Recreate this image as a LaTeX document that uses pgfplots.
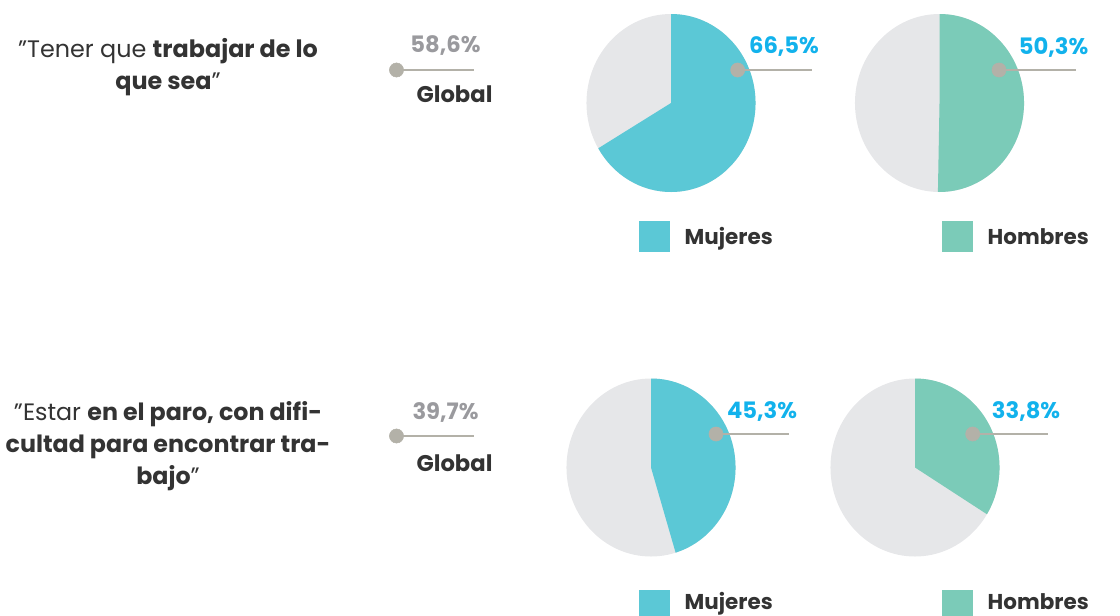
\documentclass[border=0pt]{standalone}
\usepackage{pgfplots}
\pgfplotsset{compat=1.18}
\usepackage{fontspec}
\setmainfont{Poppins}
\definecolor{cMuj}{HTML}{5BC8D6}
\definecolor{cHom}{HTML}{7BCBB8}
\definecolor{cBg}{HTML}{E6E7E9}
\definecolor{cDot}{HTML}{B3B1A8}
\definecolor{cPct}{HTML}{12B2EC}
\definecolor{cGlob}{HTML}{9A9A9E}
\definecolor{cTxt}{HTML}{333333}
% pie values (%)
\def\vMujA{66.5}\def\vHomA{50.3}\def\vMujB{45.3}\def\vHomB{33.8}
\newcommand{\pie}[5]{% cx, cy, value, colour
  \fill[cBg] (axis cs:#1,#2) ellipse[x radius=63.4pt, y radius=66.75pt];
  \fill[#4] (axis cs:#1,#2) -- ++(0,66.75pt) arc[start angle=90, end angle={90-3.6*#3}, x radius=63.4pt, y radius=66.75pt] -- cycle;
}
\begin{document}
\begin{tikzpicture}
\begin{axis}[
  width=840pt, height=461.25pt, scale only axis, hide axis,
  xmin=0, xmax=1120, ymin=0, ymax=615, y dir=reverse, clip=false]
\coordinate (BL) at (axis cs:0,615);
\coordinate (TR) at (axis cs:1120,0);
% pies
\pie{671}{103}{\vMujA}{cMuj}{}
\pie{939.5}{103}{\vHomA}{cHom}{}
\pie{651}{467.5}{\vMujB}{cMuj}{}
\pie{915}{467.5}{\vHomB}{cHom}{}
% leader lines
\addplot[cDot, line width=1.5pt] coordinates {(396.5,70) (474,70)};
\addplot[cDot, line width=1.5pt] coordinates {(737.7,70) (811.7,70)};
\addplot[cDot, line width=1.5pt] coordinates {(999,70) (1076,70)};
\addplot[cDot, line width=1.5pt] coordinates {(396.5,436) (474,436)};
\addplot[cDot, line width=1.5pt] coordinates {(716,434) (789,434)};
\addplot[cDot, line width=1.5pt] coordinates {(972.7,434) (1048,434)};
% dots
\addplot[only marks, mark=*, mark size=5.3pt, color=cDot] coordinates {
  (396.5,70) (737.7,70) (999,70) (396.5,436) (716,434) (972.7,434)};
% percent labels
\node[font=\fontsize{17}{20}\selectfont\bfseries, text=cGlob] at (axis cs:445.5,46) {58,6\%};
\node[font=\fontsize{17}{20}\selectfont\bfseries, text=cTxt] at (axis cs:454.5,94) {Global};
\node[font=\fontsize{17}{20}\selectfont\bfseries, text=cPct] at (axis cs:784,47) {66,5\%};
\node[font=\fontsize{17}{20}\selectfont\bfseries, text=cPct] at (axis cs:1053.5,47) {50,3\%};
\node[font=\fontsize{17}{20}\selectfont\bfseries, text=cGlob] at (axis cs:445.5,412) {39,7\%};
\node[font=\fontsize{17}{20}\selectfont\bfseries, text=cTxt] at (axis cs:454.5,463) {Global};
\node[font=\fontsize{17}{20}\selectfont\bfseries, text=cPct] at (axis cs:762,411) {45,3\%};
\node[font=\fontsize{17}{20}\selectfont\bfseries, text=cPct] at (axis cs:1026,411) {33,8\%};
% questions
\node[font=\fontsize{17.9}{24}\selectfont, text=cTxt, align=center] at (axis cs:168,67)
  {"Tener que \textbf{trabajar de lo}\\\textbf{que sea}"};
\node[font=\fontsize{17.8}{24}\selectfont, text=cTxt, align=center] at (axis cs:168,446)
  {"Estar \textbf{en el paro, con difi-}\\\textbf{cultad para encontrar tra-}\\\textbf{bajo}"};
% legends
\fill[cMuj] (axis cs:639,221) rectangle (axis cs:670,252);
\fill[cHom] (axis cs:942,221) rectangle (axis cs:973,252);
\node[font=\fontsize{16.1}{20}\selectfont\bfseries, text=cTxt, anchor=base west] at (axis cs:680,244) {Mujeres};
\node[font=\fontsize{16.1}{20}\selectfont\bfseries, text=cTxt, anchor=base west] at (axis cs:983,244) {Hombres};
\fill[cMuj] (axis cs:639,590) rectangle (axis cs:670,621);
\fill[cHom] (axis cs:942,590) rectangle (axis cs:973,621);
\node[font=\fontsize{16.1}{20}\selectfont\bfseries, text=cTxt, anchor=base west, inner ysep=0pt] at (axis cs:680,609) {Mujeres};
\node[font=\fontsize{16.1}{20}\selectfont\bfseries, text=cTxt, anchor=base west, inner ysep=0pt] at (axis cs:983,609) {Hombres};
\end{axis}
\pgfresetboundingbox
\path[use as bounding box] (BL) rectangle (TR);
\end{tikzpicture}
\end{document}
